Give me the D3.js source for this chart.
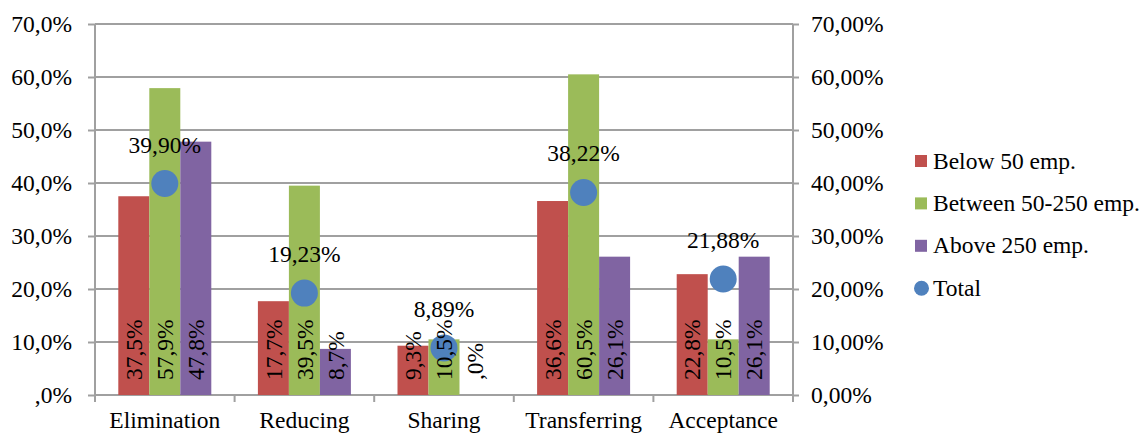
<!DOCTYPE html>
<html>
<head>
<meta charset="utf-8">
<script src="https://cdn.jsdelivr.net/npm/d3@7"></script>
<style>
  body { margin: 0; background: #fff; }
  svg text { font-family: "Liberation Serif", "Times New Roman", serif; fill: #000; }
</style>
</head>
<body>
<div id="chart"></div>
<script>
// Chart values
const categories = ["Elimination", "Reducing", "Sharing", "Transferring", "Acceptance"];
const seriesNames = ["Below 50 emp.", "Between 50-250 emp.", "Above 250 emp."];
const below50 = [37.5, 17.7, 9.3, 36.6, 22.8];
const between50to250 = [57.9, 39.5, 10.5, 60.5, 10.5];
const above250 = [47.8, 8.7, 0, 26.1, 26.1];
const total = [39.90, 19.23, 8.89, 38.22, 21.88];
const leftTickLabels = [",0%", "10,0%", "20,0%", "30,0%", "40,0%", "50,0%", "60,0%", "70,0%"];
const rightTickLabels = ["0,00%", "10,00%", "20,00%", "30,00%", "40,00%", "50,00%", "60,00%", "70,00%"];

const colors = ["#C0504D", "#9BBB59", "#8064A2"];
const totalColor = "#4F81BD";
const gridColor = "#A0A0A0";
const fontFamily = '"Liberation Serif", "Times New Roman", serif';
const fontSize = "23.5px";

const width = 1145, height = 434;
const plot = { left: 95, right: 793, top: 24, bottom: 395 };

const svg = d3.select("#chart").append("svg")
  .attr("width", width)
  .attr("height", height)
  .attr("font-family", fontFamily);

const x0 = d3.scaleBand()
  .domain(categories)
  .range([plot.left, plot.right]);

const bw = x0.bandwidth();
const x1 = d3.scaleBand()
  .domain(seriesNames)
  .range([bw / 2 - 46.5, bw / 2 + 46.5]);

const y = d3.scaleLinear()
  .domain([0, 70])
  .range([plot.bottom, plot.top]);

const ticks = d3.range(0, 71, 10);

// gridlines
svg.append("g")
  .selectAll("line")
  .data(ticks)
  .enter().append("line")
    .attr("x1", plot.left)
    .attr("x2", plot.right)
    .attr("y1", d => y(d))
    .attr("y2", d => y(d))
    .style("stroke", gridColor)
    .style("stroke-width", 2);

// left axis
const yAxisLeft = d3.axisLeft(y)
  .tickValues(ticks)
  .tickSize(7)
  .tickPadding(16)
  .tickFormat((d, i) => leftTickLabels[i]);

const gLeft = svg.append("g")
  .attr("transform", "translate(" + plot.left + ",0)")
  .call(yAxisLeft);

// right axis
const yAxisRight = d3.axisRight(y)
  .tickValues(ticks)
  .tickSize(6)
  .tickPadding(12)
  .tickFormat((d, i) => rightTickLabels[i]);

const gRight = svg.append("g")
  .attr("transform", "translate(" + plot.right + ",0)")
  .call(yAxisRight);

[gLeft, gRight].forEach(g => {
  g.attr("font-family", fontFamily).attr("font-size", null);
  g.select(".domain").remove();
  g.selectAll(".tick line").style("stroke", gridColor).style("stroke-width", 2);
  g.selectAll(".tick text")
    .style("font-family", fontFamily)
    .style("font-size", fontSize)
    .style("fill", "#000");
});

// vertical axis lines
[plot.left, plot.right].forEach(xp => {
  svg.append("line")
    .attr("x1", xp).attr("x2", xp)
    .attr("y1", plot.top).attr("y2", plot.bottom + 7)
    .style("stroke", gridColor)
    .style("stroke-width", 2);
});

// category tick marks at band boundaries
const boundaries = categories.map(c => x0(c)).concat([plot.right]);
svg.append("g")
  .selectAll("line")
  .data(boundaries)
  .enter().append("line")
    .attr("x1", d => d).attr("x2", d => d)
    .attr("y1", plot.bottom).attr("y2", plot.bottom + 7)
    .style("stroke", gridColor)
    .style("stroke-width", 2);

// category labels
svg.append("g")
  .selectAll("text")
  .data(categories)
  .enter().append("text")
    .attr("x", d => x0(d) + bw / 2)
    .attr("y", 428)
    .attr("text-anchor", "middle")
    .style("font-size", fontSize)
    .text(d => d);

// bars
const seriesValues = [below50, between50to250, above250];
const barData = [];
categories.forEach((c, ci) => {
  seriesNames.forEach((s, si) => {
    barData.push({ cat: c, series: s, value: seriesValues[si][ci], color: colors[si] });
  });
});

// 0 is written as ",0%" like the original
const fmtBar = v => {
  const parts = d3.format(".1f")(v).split(".");
  return (v === 0 ? "" : parts[0]) + "," + parts[1] + "%";
};

svg.append("g")
  .selectAll("rect")
  .data(barData)
  .enter().append("rect")
    .attr("x", d => x0(d.cat) + x1(d.series))
    .attr("y", d => y(d.value))
    .attr("width", x1.bandwidth())
    .attr("height", d => y(0) - y(d.value))
    .style("fill", d => d.color);

// total dots
svg.append("g")
  .selectAll("circle")
  .data(total)
  .enter().append("circle")
    .attr("cx", (d, i) => x0(categories[i]) + bw / 2)
    .attr("cy", d => y(d))
    .attr("r", 13.5)
    .style("fill", totalColor);

// bar labels (rotated), drawn above the dots
svg.append("g")
  .selectAll("text")
  .data(barData)
  .enter().append("text")
    .attr("transform", d => "translate(" + (x0(d.cat) + x1(d.series) + x1.bandwidth() / 2) + "," + (plot.bottom - 15) + ") rotate(-90)")
    .attr("dy", "0.35em")
    .attr("text-anchor", "start")
    .style("font-size", fontSize)
    .text(d => fmtBar(d.value));

// total labels
svg.append("g")
  .selectAll("text")
  .data(total)
  .enter().append("text")
    .attr("x", (d, i) => x0(categories[i]) + bw / 2)
    .attr("y", d => y(d) - 31)
    .attr("text-anchor", "middle")
    .style("font-size", fontSize)
    .text(d => d3.format(".2f")(d).replace(".", ",") + "%");

// legend
const legendItems = seriesNames.map((s, i) => ({ name: s, color: colors[i], type: "rect" }))
  .concat([{ name: "Total", color: totalColor, type: "circle" }]);

const legend = svg.append("g")
  .attr("transform", "translate(915,161)");

const item = legend.selectAll("g")
  .data(legendItems)
  .enter().append("g")
    .attr("transform", (d, i) => "translate(0," + (i * 42.4) + ")");

item.filter(d => d.type === "rect").append("rect")
  .attr("x", 0).attr("y", -6)
  .attr("width", 12).attr("height", 12)
  .style("fill", d => d.color);

item.filter(d => d.type === "circle").append("circle")
  .attr("cx", 6.5).attr("cy", 0).attr("r", 7.5)
  .style("fill", d => d.color);

item.append("text")
  .attr("x", 18)
  .attr("y", 7.5)
  .style("font-size", fontSize)
  .text(d => d.name);
</script>
</body>
</html>
